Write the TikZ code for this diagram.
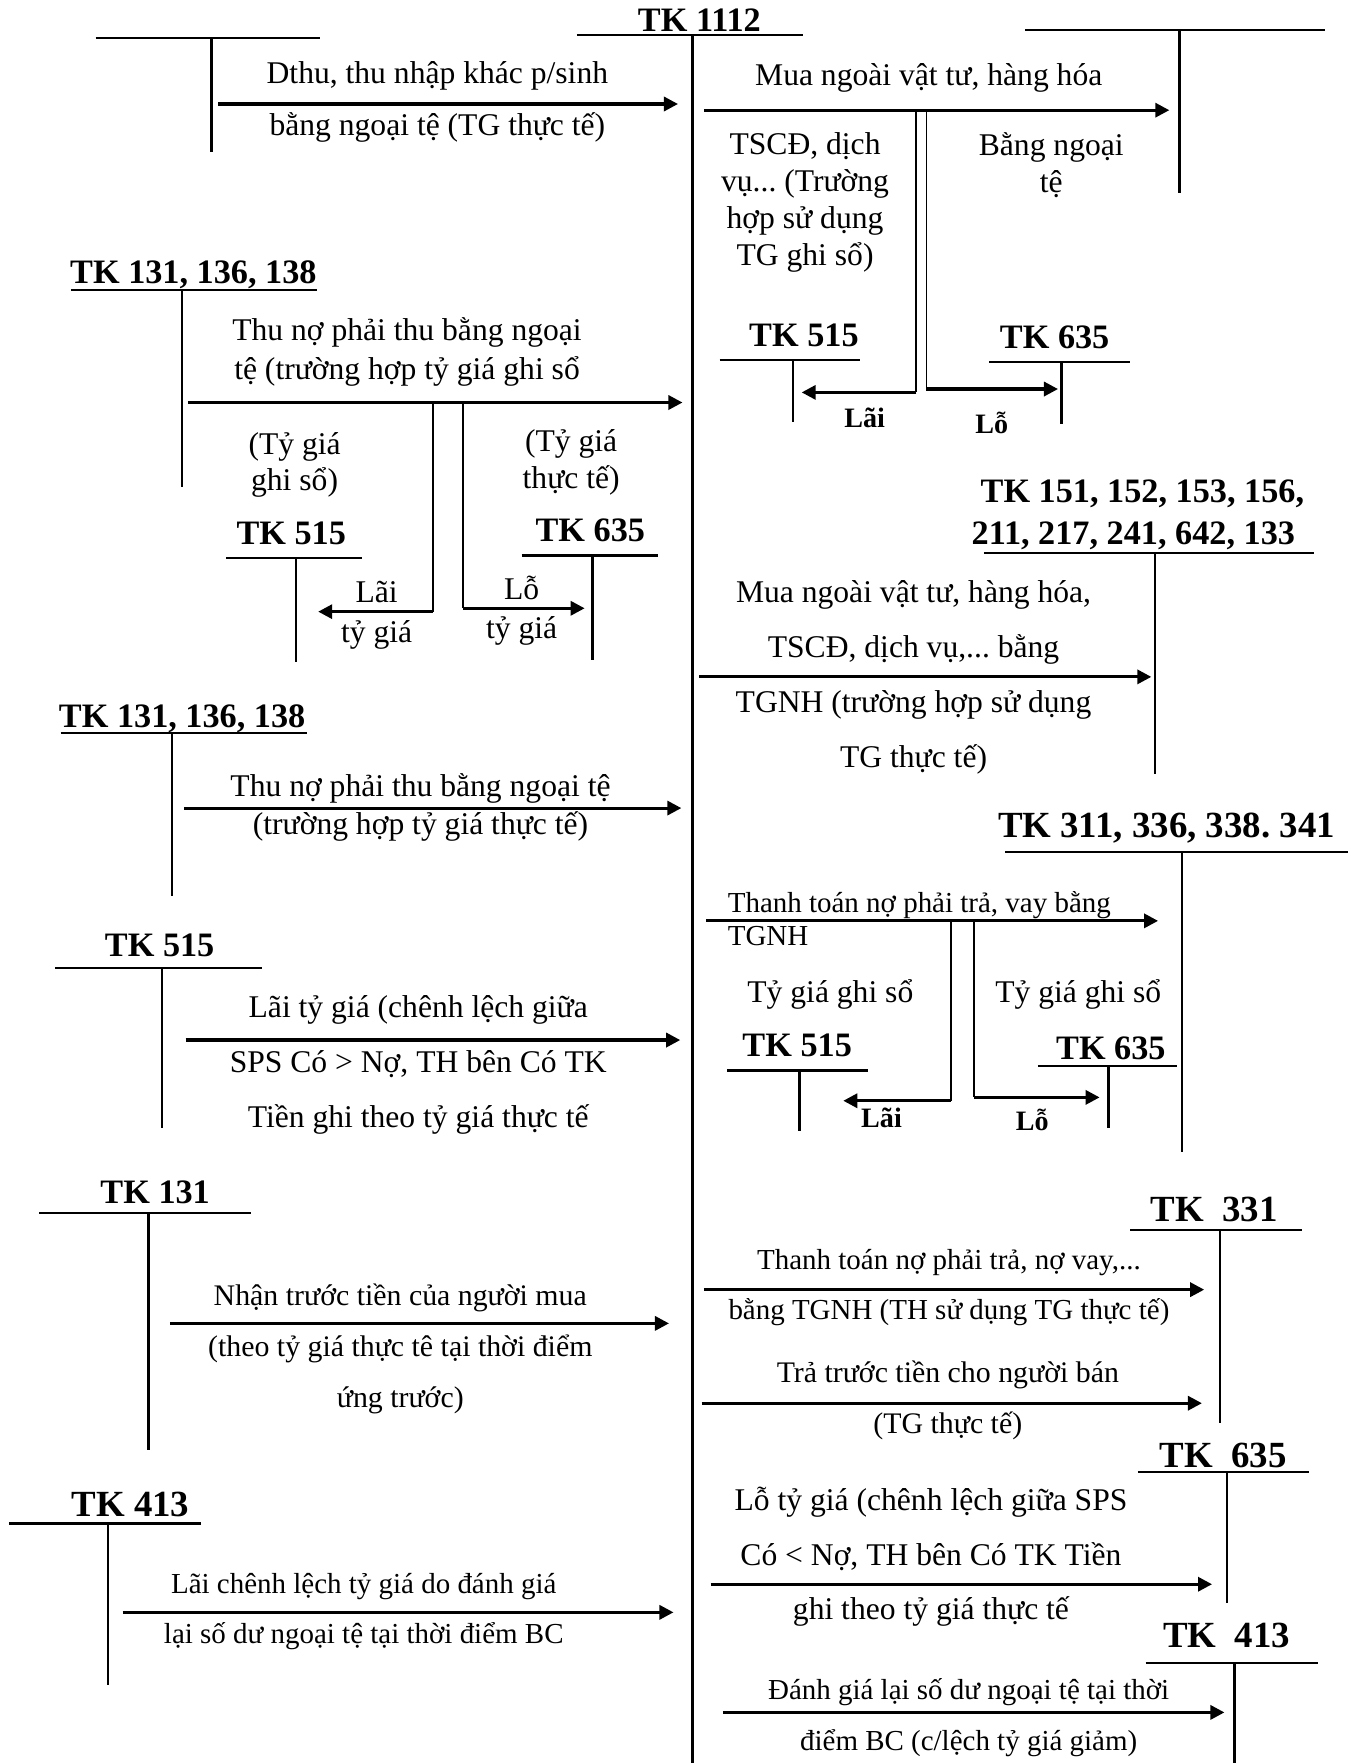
\documentclass[tikz,border=0pt]{standalone}
\usepackage{fontspec}
\setmainfont{Liberation Serif}
\usetikzlibrary{arrows.meta}
\frenchspacing

\tikzset{
  tbar/.style={line width=1.3pt},
  branch/.style={line width=1pt},
  flow/.style={line width=1.8pt, -{Triangle[length=8pt,width=8pt]}},
  tk/.style={font=\bfseries\fontsize{19.5}{23}\selectfont, inner sep=0pt, anchor=base},
  tkbig/.style={font=\bfseries\fontsize{21}{25}\selectfont, inner sep=0pt, anchor=base},
  tag/.style={font=\bfseries\fontsize{16}{19}\selectfont, inner sep=0pt},
  txt/.style={font=\fontsize{18}{#1}\selectfont, align=center, inner sep=0pt},
  txt/.default=21pt,
  txtm/.style={font=\fontsize{17}{#1}\selectfont, align=center, inner sep=0pt},
  txtm/.default=20pt,
  txts/.style={font=\fontsize{16.5}{#1}\selectfont, align=center, inner sep=0pt},
  txts/.default=19pt,
}

\begin{document}
\begin{tikzpicture}[x=0.0225cm, y=-0.0225cm]
\useasboundingbox (0,0) rectangle (1204,1568);

% TK 1112, the centre account
\node[tk] (tk1112) at (622,28) {TK 1112};
\draw[tbar] (513,31) -- (714,31);
\draw[tbar] (616,31) -- (616,1568);

% top left: Dthu
\draw[tbar] (85,33.5) -- (285,33.5);
\draw[tbar] (188,33.5) -- (188,135);
\coordinate (dthuS) at (194,92.5);
\coordinate (dthuE) at (603,92.5);
\draw[flow] (dthuS) -- (dthuE);
\node[txt=30pt] (dthu) at (389,90.5) {Dthu, thu nhập khác p/sinh\\bằng ngoại tệ (TG thực tế)};

% top right: mua ngoai bang ngoai te
\draw[tbar] (912,26.7) -- (1178,26.7);
\draw[tbar] (1049,26.7) -- (1049,172);
\coordinate (muaS) at (626,98);
\coordinate (muaE) at (1040,98);
\draw[flow] (muaS) -- (muaE);
\node[txt] (mua) at (826,69.7) {Mua ngoài vật tư, hàng hóa};
\node[txt] (tscd) at (716,180) {TSCĐ, dịch\\vụ... (Trường\\hợp sử dụng\\TG ghi sổ)};
\node[txt] (bnt) at (935,147) {Bằng ngoại\\tệ};

\node[tk] (tk515a) at (715,308) {TK 515};
\draw[tbar] (640,320) -- (765,320);
\draw[tbar] (705,320) -- (705,375);
\node[tk] (tk635a) at (938,310) {TK 635};
\draw[tbar] (880,322) -- (1005,322);
\draw[tbar] (944,322) -- (944,377);
\coordinate (laiA0) at (815,98);
\coordinate (laiA1) at (815,349);
\coordinate (laiA2) at (713,349);
\draw[branch] (laiA0) -- (laiA1);
\draw[flow] (laiA1) -- (laiA2);
\coordinate (loA0) at (824,98);
\coordinate (loA1) at (824,346);
\coordinate (loA2) at (941,346);
\draw[branch] (loA0) -- (loA1);
\draw[flow] (loA1) -- (loA2);
\node[tag] (laiA) at (769,372) {Lãi};
\node[tag] (loA) at (882,376.5) {Lỗ};

% TK 131, 136, 138 (ty gia ghi so)
\node[tk] (tk131a) at (172,252) {TK 131, 136, 138};
\draw[tbar] (63,258) -- (282,258);
\draw[tbar] (162,258) -- (162,433);
\coordinate (thuAS) at (167,358);
\coordinate (thuAE) at (607,358);
\draw[flow] (thuAS) -- (thuAE);
\node[txt=21.7pt] (thuA) at (362,313) {Thu nợ phải thu bằng ngoại\\tệ (trường hợp tỷ giá ghi sổ};
\node[txt] (tgA) at (262,413.5) {(Tỷ giá\\ghi sổ)};
\node[txt] (tgB) at (508,411.5) {(Tỷ giá\\thực tế)};
\node[tk] (tk515b) at (259,484) {TK 515};
\draw[tbar] (201,496) -- (322,496);
\draw[tbar] (263,496) -- (263,589);
\node[tk] (tk635b) at (525,482) {TK 635};
\draw[tbar] (464,494) -- (585,494);
\draw[tbar] (527,494) -- (527,587);
\coordinate (laiB0) at (385,358);
\coordinate (laiB1) at (385,544);
\coordinate (laiB2) at (283,544);
\draw[branch] (laiB0) -- (laiB1);
\draw[flow] (laiB1) -- (laiB2);
\coordinate (loB0) at (412,358);
\coordinate (loB1) at (412,541);
\coordinate (loB2) at (520,541);
\draw[branch] (loB0) -- (loB1);
\draw[flow] (loB1) -- (loB2);
\node[txt=22.6pt] (laiB) at (335,547) {Lãi\\tỷ giá};
\node[txt=22pt] (loB) at (464,543) {Lỗ\\tỷ giá};

% TK 131, 136, 138 (ty gia thuc te)
\node[tk] (tk131b) at (162,646.7) {TK 131, 136, 138};
\draw[tbar] (54,652) -- (273,652);
\draw[tbar] (153,652) -- (153,797);
\coordinate (thuBS) at (164,718.7);
\coordinate (thuBE) at (606,718.7);
\draw[flow] (thuBS) -- (thuBE);
\node[txt=22pt] (thuB) at (374,718) {Thu nợ phải thu bằng ngoại tệ\\(trường hợp tỷ giá thực tế)};

% TK 515, lai ty gia
\node[tk] (tk515c) at (142,851) {TK 515};
\draw[tbar] (49,861) -- (233,861);
\draw[tbar] (144,861) -- (144,1003);
\coordinate (laiCS) at (165,925);
\coordinate (laiCE) at (605,925);
\draw[flow] (laiCS) -- (laiCE);
\node[txt=31.3pt] (laiC) at (372,947) {Lãi tỷ giá (chênh lệch giữa\\SPS Có > Nợ, TH bên Có TK\\Tiền ghi theo tỷ giá thực tế};

% TK 131, nhan truoc
\node[tk] (tk131c) at (138,1070) {TK 131};
\draw[tbar] (35,1079) -- (223,1079);
\draw[tbar] (132,1079) -- (132,1290);
\coordinate (nhanS) at (151,1177);
\coordinate (nhanE) at (595,1177);
\draw[flow] (nhanS) -- (nhanE);
\node[txtm=29pt] (nhan) at (356,1199.5) {Nhận trước tiền của người mua\\(theo tỷ giá thực tê tại thời điểm\\ứng trước)};

% TK 413, lai danh gia lai
\node[tkbig] (tk413a) at (116,1349) {TK 413};
\draw[tbar] (8,1355) -- (179,1355);
\draw[tbar] (96,1355) -- (96,1499);
\coordinate (clS) at (109,1434);
\coordinate (clE) at (599,1434);
\draw[flow] (clS) -- (clE);
\node[txts=28.4pt] (cl413) at (323.5,1433) {Lãi chênh lệch tỷ giá do đánh giá\\lại số dư ngoại tệ tại thời điểm BC};

% TK 151 ... 133
\node[tk] (tk151) at (1016,447) {TK 151, 152, 153, 156,};
\node[tk] (tk211) at (1008,484) {211, 217, 241, 642, 133};
\draw[tbar] (875,492) -- (1169,492);
\draw[tbar] (1027,492) -- (1027,688);
\coordinate (muaBS) at (622,602);
\coordinate (muaBE) at (1024,602);
\draw[flow] (muaBS) -- (muaBE);
\node[txt=31.3pt] (muaB) at (812.5,602.5) {Mua ngoài vật tư, hàng hóa,\\TSCĐ, dịch vụ,... bằng\\TGNH (trường hợp sử dụng\\TG thực tế)};

% TK 311, 336, 338, 341
\node[tkbig] (tk311) at (1037.5,745) {TK 311, 336, 338. 341};
\draw[tbar] (894,758) -- (1199,758);
\draw[tbar] (1051,758) -- (1051,1025);
\coordinate (ttAS) at (628,819);
\coordinate (ttAE) at (1030,819);
\draw[flow] (ttAS) -- (ttAE);
\node[txts=19pt, align=left, anchor=west] (ttA) at (647,817) {Thanh toán nợ phải trả, vay bằng\\TGNH};
\node[txt] (tgC) at (738.5,884.7) {Tỷ giá ghi sổ};
\node[txt] (tgD) at (959,884.7) {Tỷ giá ghi sổ};
\node[tk] (tk515d) at (709,940) {TK 515};
\draw[tbar] (647,952) -- (772,952);
\draw[tbar] (711,952) -- (711,1006);
\node[tk] (tk635d) at (988,942.6) {TK 635};
\draw[tbar] (923,948) -- (1047,948);
\draw[tbar] (986,948) -- (986,1003);
\coordinate (laiD0) at (846,819);
\coordinate (laiD1) at (846,979);
\coordinate (laiD2) at (750,979);
\draw[branch] (laiD0) -- (laiD1);
\draw[flow] (laiD1) -- (laiD2);
\coordinate (loD0) at (866,819);
\coordinate (loD1) at (866,976);
\coordinate (loD2) at (978,976);
\draw[branch] (loD0) -- (loD1);
\draw[flow] (loD1) -- (loD2);
\node[tag] (laiD) at (784,994) {Lãi};
\node[tag] (loD) at (918,996) {Lỗ};

% TK 331
\node[tkbig] (tk331) at (1080,1086.5) {TK\ \ 331};
\draw[tbar] (1005,1094) -- (1158,1094);
\draw[tbar] (1085,1094) -- (1085,1266);
\coordinate (ttBS) at (626,1147);
\coordinate (ttBE) at (1071,1147);
\draw[flow] (ttBS) -- (ttBE);
\node[txts=28.5pt] (ttB) at (844,1145.5) {Thanh toán nợ phải trả, nợ vay,...\\bằng TGNH (TH sử dụng TG thực tế)};
\coordinate (traS) at (624,1248);
\coordinate (traE) at (1069,1248);
\draw[flow] (traS) -- (traE);
\node[txtm=29.3pt] (tra) at (843,1245.7) {Trả trước tiền cho người bán\\(TG thực tế)};

% TK 635, lo ty gia
\node[tkbig] (tk635e) at (1088,1305) {TK\ \ 635};
\draw[tbar] (1012,1309) -- (1164,1309);
\draw[tbar] (1091,1309) -- (1091,1426);
\coordinate (loCS) at (632,1409);
\coordinate (loCE) at (1078,1409);
\draw[flow] (loCS) -- (loCE);
\node[txt=31.3pt] (loC) at (828,1384.5) {Lỗ tỷ giá (chênh lệch giữa SPS\\Có < Nợ, TH bên Có TK Tiền\\ghi theo tỷ giá thực tế};

% TK 413, danh gia lai
\node[tkbig] (tk413b) at (1091,1465.5) {TK\ \ 413};
\draw[tbar] (1019,1479) -- (1172,1479);
\draw[tbar] (1098,1479) -- (1098,1568);
\coordinate (dgS) at (643,1523);
\coordinate (dgE) at (1089,1523);
\draw[flow] (dgS) -- (dgE);
\node[txts=29pt] (dg) at (861.5,1527.5) {Đánh giá lại số dư ngoại tệ tại thời\\điểm BC (c/lệch tỷ giá giảm)};
\end{tikzpicture}
\end{document}
